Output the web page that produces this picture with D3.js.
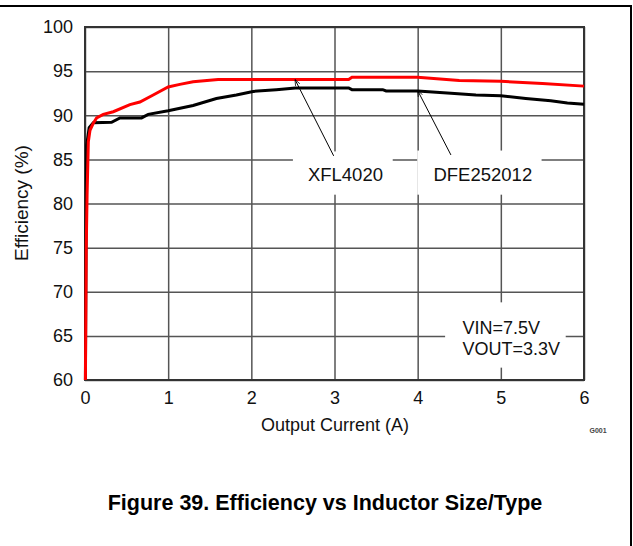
<!DOCTYPE html>
<html lang="en">

<head>
    <meta charset="UTF-8">
    <title>Efficiency vs Inductor Size/Type</title>
    <script src="https://cdn.jsdelivr.net/npm/d3@7"></script>
    <style>
        body { margin: 0; background: #fff; }
        text { font-family: "Liberation Sans", Arial, sans-serif; }
    </style>
</head>

<body>
    <svg id="main" width="633" height="546"></svg>
    <script>
        // XFL4020 (red)
        const xflCurrent = [0.005, 0.015, 0.025, 0.04, 0.06, 0.1, 0.14, 0.22, 0.34, 0.54, 0.66, 0.82, 1.0, 1.14, 1.3, 1.6, 3.17, 3.21, 4.0, 4.5, 5.0, 5.5, 6.0];
        const xflEff = [60, 75, 81, 87, 88.3, 89.1, 89.7, 90.1, 90.4, 91.2, 91.5, 92.3, 93.2, 93.5, 93.8, 94.05, 94.05, 94.3, 94.3, 93.95, 93.85, 93.6, 93.3];

        // DFE252012 (black)
        const dfeCurrent = [0.005, 0.012, 0.02, 0.05, 0.1, 0.32, 0.42, 0.68, 0.76, 1.0, 1.3, 1.58, 1.82, 2.02, 2.3, 2.53, 3.17, 3.21, 3.58, 3.62, 4.0, 4.4, 4.7, 5.0, 5.3, 5.6, 5.8, 6.0];
        const dfeEff = [60, 75, 86.6, 88.6, 89.15, 89.2, 89.7, 89.7, 90.1, 90.5, 91.1, 91.9, 92.3, 92.7, 92.9, 93.1, 93.1, 92.9, 92.9, 92.75, 92.75, 92.5, 92.3, 92.2, 91.9, 91.65, 91.4, 91.25];

        const xTicks = [0, 1, 2, 3, 4, 5, 6];
        const yTicks = [60, 65, 70, 75, 80, 85, 90, 95, 100];

        // callouts: label, line start, arrow tip (data units)
        const calloutLabels = ['XFL4020', 'DFE252012'];
        const calloutFrom = [[2.99, 85.4], [4.4, 85.5]];
        const calloutTip = [[2.525, 94.05], [4.0, 92.8]];

        const svg = d3.select('#main');
        const x = d3.scaleLinear().domain([0, 6]).range([85, 584]);
        const y = d3.scaleLinear().domain([60, 100]).range([380, 27]);

        // outer frame (top and right)
        svg.append('path')
            .attr('d', 'M0,6H631V546')
            .attr('fill', 'none')
            .attr('stroke', '#000')
            .attr('stroke-width', 2);

        // grid
        svg.append('g')
            .attr('transform', 'translate(0,380)')
            .call(d3.axisBottom(x).tickValues(xTicks).tickSize(-353).tickFormat(''))
            .call(g => g.select('.domain').remove())
            .selectAll('line').attr('stroke', '#555').attr('stroke-width', 1.5);
        svg.append('g')
            .attr('transform', 'translate(85,0)')
            .call(d3.axisLeft(y).tickValues(yTicks).tickSize(-499).tickFormat(''))
            .call(g => g.select('.domain').remove())
            .selectAll('line').attr('stroke', '#555').attr('stroke-width', 1.5);

        // white boxes behind the labels
        const boxes = [[2.5, 3.7, 85.9, 81.0], [3.995, 5.49, 86.0, 81.0], [4.33, 5.78, 68.8, 61.4]];
        svg.selectAll('rect.box').data(boxes).enter().append('rect')
            .attr('class', 'box')
            .attr('x', d => x(d[0]))
            .attr('y', d => y(d[2]))
            .attr('width', d => x(d[1]) - x(d[0]))
            .attr('height', d => y(d[3]) - y(d[2]))
            .attr('fill', '#fff');

        // plot frame
        svg.append('rect')
            .attr('x', 85).attr('y', 27).attr('width', 499).attr('height', 353)
            .attr('fill', 'none').attr('stroke', '#333').attr('stroke-width', 2);

        // tick labels
        svg.append('g')
            .attr('transform', 'translate(0,380)')
            .call(d3.axisBottom(x).tickValues(xTicks).tickSize(0).tickPadding(11).tickFormat(d3.format('d')))
            .call(g => g.select('.domain').remove())
            .selectAll('text')
            .attr('font-size', 18).attr('fill', '#111')
            .attr('font-family', '"Liberation Sans", Arial, sans-serif');
        svg.append('g')
            .attr('transform', 'translate(85,0)')
            .call(d3.axisLeft(y).tickValues(yTicks).tickSize(0).tickPadding(12))
            .call(g => g.select('.domain').remove())
            .selectAll('text')
            .attr('font-size', 18).attr('fill', '#111')
            .attr('font-family', '"Liberation Sans", Arial, sans-serif');

        // curves
        const line = d3.line().x(d => x(d[0])).y(d => y(d[1]));
        svg.append('path')
            .datum(dfeCurrent.map((c, i) => [c, dfeEff[i]]))
            .attr('d', line).attr('fill', 'none')
            .attr('stroke', '#000').attr('stroke-width', 3);
        svg.append('path')
            .datum(xflCurrent.map((c, i) => [c, xflEff[i]]))
            .attr('d', line).attr('fill', 'none')
            .attr('stroke', '#f00').attr('stroke-width', 3);

        // callout arrows
        svg.append('defs').append('marker')
            .attr('id', 'tip')
            .attr('viewBox', '0 0 10 10')
            .attr('refX', 10).attr('refY', 5)
            .attr('markerWidth', 6).attr('markerHeight', 6)
            .attr('orient', 'auto')
            .append('path').attr('d', 'M0,1L10,5L0,9').attr('fill', 'none').attr('stroke', '#000').attr('stroke-width', 1.2);
        calloutLabels.forEach((lab, i) => {
            svg.append('line')
                .attr('x1', x(calloutFrom[i][0])).attr('y1', y(calloutFrom[i][1]))
                .attr('x2', x(calloutTip[i][0])).attr('y2', y(calloutTip[i][1]))
                .attr('stroke', '#000').attr('stroke-width', 1)
                .attr('marker-end', 'url(#tip)');
        });
        svg.append('text').attr('x', x(2.68)).attr('y', y(82.6))
            .attr('font-size', 18.5).attr('fill', '#111').text(calloutLabels[0]);
        svg.append('text').attr('x', x(4.19)).attr('y', y(82.6))
            .attr('font-size', 18.5).attr('fill', '#111').text(calloutLabels[1]);

        // conditions
        svg.append('text').attr('x', x(4.54)).attr('y', y(65.2))
            .attr('font-size', 18).attr('fill', '#111').text('VIN=7.5V');
        svg.append('text').attr('x', x(4.54)).attr('y', y(62.8))
            .attr('font-size', 18).attr('fill', '#111').text('VOUT=3.3V');

        // axis titles
        svg.append('text')
            .attr('x', 335).attr('y', 431)
            .attr('text-anchor', 'middle')
            .attr('font-size', 18).attr('fill', '#111')
            .text('Output Current (A)');
        svg.append('text')
            .attr('transform', 'translate(28,203) rotate(-90)')
            .attr('text-anchor', 'middle')
            .attr('font-size', 19).attr('fill', '#111')
            .text('Efficiency (%)');

        svg.append('text')
            .attr('x', 598).attr('y', 433)
            .attr('text-anchor', 'middle')
            .attr('font-size', 7).attr('font-weight', 'bold').attr('fill', '#444')
            .text('G001');

        svg.append('text')
            .attr('x', 325).attr('y', 510)
            .attr('text-anchor', 'middle')
            .attr('font-size', 21.5).attr('font-weight', 'bold').attr('fill', '#000')
            .text('Figure 39. Efficiency vs Inductor Size/Type');
    </script>
</body>

</html>
